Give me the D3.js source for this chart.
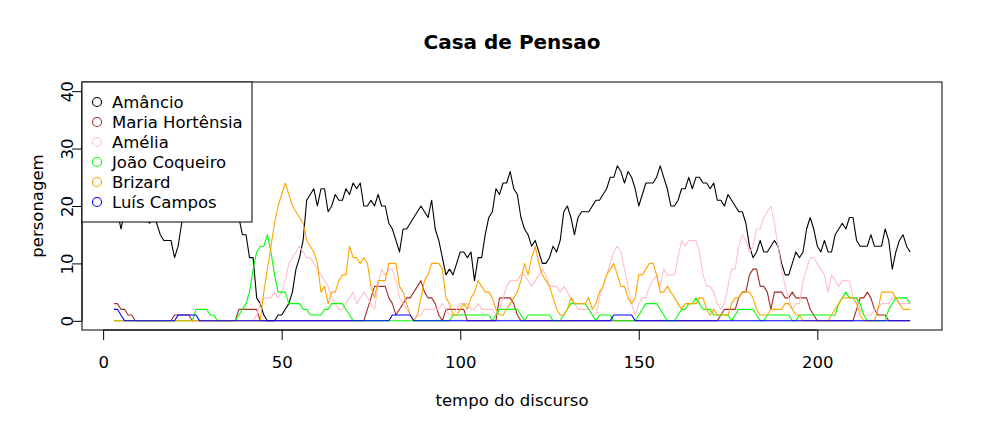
<!DOCTYPE html>
<html><head><meta charset="utf-8">
<script src="https://cdn.jsdelivr.net/npm/d3@7"></script>
<style>
body{margin:0;background:#fff}
svg{display:block}
text{font-family:"DejaVu Sans",sans-serif;fill:#000}
</style>
</head><body>
<svg id="c" width="984" height="433"></svg>
<script>
// x: tempo do discurso 3..226
const tempo = d3.range(3, 227);
const xTicks = [0, 50, 100, 150, 200];
const yTicks = [0, 10, 20, 30, 40];
const names = ["Amâncio", "Maria Hortênsia", "Amélia", "João Coqueiro", "Brizard", "Luís Campos"];
const colors = ["#000000", "#A52A2A", "#FFC0CB", "#00FF00", "#FFA500", "#0000FF"];

const amancio = [
19,19,16,19,20,20,19,19,18,18,
17,18,17,15,14,14,14,11,13,17,
20,21,22,21,22,22,21,20,21,22,
21,20,21,20,19,18,15,15,11,11,
4,3,1,0,0,0,1,1,2,3,
5,9,11,14,21,22,23,20,23,23,
19,20,22,21,21,23,22,24,23,24,
20,20,21,20,22,20,20,17,16,14,
12,16,16,17,18,19,20,19,18,21,
16,14,11,8,9,8,10,12,12,11,
12,7,11,11,15,18,19,23,22,24,
24,26,23,22,18,16,15,13,14,12,
10,10,11,13,12,14,19,20,18,15,
18,19,19,19,20,21,21,22,23,25,
25,27,26,24,26,25,23,20,22,24,
24,24,25,27,25,23,20,20,21,23,
23,25,23,25,25,24,24,23,24,21,
21,20,22,21,20,19,19,17,13,11,
12,14,12,12,13,14,13,10,8,8,
10,12,11,12,16,18,16,13,12,14,
12,12,15,16,17,16,18,18,14,13,
13,13,15,13,13,13,16,14,9,12,
14,15,13,12];

const mariaHortensia = [
3,3,2,2,1,1,0,0,0,0,
0,0,0,0,0,0,0,1,1,1,
1,1,0,0,0,0,0,0,0,0,
0,0,0,0,0,2,2,2,2,2,
2,0,0,0,0,0,0,0,0,0,
0,0,0,0,0,0,0,0,0,0,
0,0,0,0,0,0,0,0,0,0,
0,2,4,6,6,6,6,4,3,1,
2,3,4,4,5,6,7,5,4,4,
3,1,0,2,2,2,2,2,2,0,
0,0,0,0,0,0,0,0,4,4,
4,4,3,1,0,0,0,0,0,0,
0,0,0,0,0,0,0,0,0,0,
0,0,0,0,0,0,0,0,0,0,
0,0,0,0,0,0,0,0,0,0,
0,0,0,0,0,0,0,0,0,0,
0,0,0,0,0,0,0,0,0,0,
1,2,2,2,2,4,5,5,8,9,
9,6,6,5,2,5,5,5,4,4,
5,4,4,4,4,2,1,0,0,0,
0,0,0,0,0,0,0,0,2,4,
4,5,4,2,1,1,1,0,0,0,
0,0,0,0];

const amelia = [
0,0,0,0,0,0,0,0,0,0,
0,0,0,0,0,0,0,0,0,0,
0,0,0,0,0,0,0,0,0,0,
0,0,0,0,0,0,0,0,0,0,
1,3,4,4,4,5,4,5,7,10,
11,12,13,12,11,11,10,9,8,7,
6,4,3,2,2,3,4,5,3,4,
5,4,3,2,6,9,8,9,9,7,
4,3,2,1,0,1,1,2,2,2,
2,2,3,2,1,1,2,3,3,3,
2,2,3,2,2,2,2,1,2,4,
6,7,7,7,8,8,7,6,7,8,
9,8,6,6,6,5,6,5,4,3,
2,2,2,2,1,1,4,6,8,10,
12,13,12,9,6,3,1,3,4,4,
6,7,8,6,9,8,8,8,11,14,
13,14,14,14,12,8,6,6,5,3,
2,3,6,9,9,13,15,14,12,13,
16,16,18,19,20,17,13,9,6,4,
2,3,3,7,9,11,11,10,9,8,
5,8,7,6,7,7,7,4,4,2,
1,1,1,2,2,3,3,3,4,4,
3,3,3,3];

const joaoCoqueiro = [
0,0,0,0,0,0,0,0,0,0,
0,0,0,0,0,0,0,0,0,0,
0,0,0,2,2,2,2,1,1,0,
0,0,0,0,0,1,2,3,5,9,
12,13,13,15,12,8,5,5,5,3,
3,3,3,2,2,1,1,1,1,2,
2,3,3,3,3,2,1,0,0,0,
0,0,0,0,0,0,0,0,0,0,
0,0,0,0,0,0,0,0,0,0,
0,0,0,0,0,1,1,1,1,1,
1,1,1,1,1,1,0,1,2,2,
2,2,2,2,1,0,1,1,1,1,
1,1,1,0,0,0,1,2,3,3,
3,3,3,2,1,0,1,1,1,1,
0,0,0,0,0,0,0,1,2,3,
3,3,3,2,1,0,0,0,1,2,
2,3,3,4,3,2,2,2,1,1,
1,1,1,0,1,2,2,2,2,2,
1,0,0,1,1,1,1,1,1,1,
0,0,1,1,1,1,1,1,1,1,
1,1,1,3,4,5,4,4,4,3,
1,0,0,0,0,0,0,2,3,4,
4,4,4,3];

const brizard = [
0,0,0,0,0,0,0,0,0,0,
0,0,0,0,0,0,0,0,0,0,
0,0,0,0,0,0,0,0,0,0,
0,0,0,0,0,0,0,0,0,0,
0,0,5,9,13,17,20,22,24,22,
20,19,18,17,14,13,12,10,5,6,
3,5,5,7,8,8,13,11,11,10,
11,10,6,4,7,7,7,10,10,10,
6,5,3,1,0,1,4,7,8,10,
10,10,9,4,3,1,1,2,3,2,
4,5,7,6,5,5,4,2,1,1,
2,3,4,5,7,10,8,11,13,10,
8,7,6,4,2,1,1,2,4,3,
3,3,3,4,2,3,5,6,8,9,
10,8,6,6,4,3,4,8,8,9,
10,10,8,5,5,6,5,4,3,2,
3,3,3,3,4,4,2,1,2,1,
1,1,1,3,4,4,5,5,5,4,
2,1,1,1,2,2,2,2,3,3,
2,1,1,0,0,0,0,0,0,0,
0,1,2,3,4,4,4,4,3,1,
0,0,0,0,2,5,5,5,5,4,
3,2,2,2];

const luisCampos = [
2,2,1,0,0,0,0,0,0,0,
0,0,0,0,0,0,0,0,1,1,
1,1,1,1,0,0,0,0,0,0,
0,0,0,0,0,0,0,0,0,0,
0,0,0,0,0,0,0,0,0,0,
0,0,0,0,0,0,0,0,0,0,
0,0,0,0,0,0,0,0,0,0,
0,0,0,0,0,0,0,0,1,1,
1,1,1,1,0,0,0,0,0,0,
0,0,0,0,0,0,0,0,0,0,
0,0,0,0,0,0,0,0,0,0,
0,0,0,0,0,0,0,0,0,0,
0,0,0,0,0,0,0,0,0,0,
0,0,0,0,0,0,0,0,0,0,
1,1,1,1,1,1,0,0,0,0,
0,0,0,0,0,0,0,0,0,0,
0,0,0,0,0,0,0,0,0,0,
0,0,0,0,0,0,0,0,0,0,
0,0,0,0,0,0,0,0,0,0,
0,0,0,0,0,0,0,0,0,0,
0,0,0,0,0,0,0,0,0,0,
0,0,0,0,0,0,0,0,0,0,
0,0,0,0];

const series = [amancio, mariaHortensia, amelia, joaoCoqueiro, brizard, luisCampos];

const L = 82, R = 942, T = 82, B = 330;
const svg = d3.select("#c");
svg.append("rect").attr("width",984).attr("height",433).attr("fill","#fff");

const xmin = d3.min(tempo), xmax = d3.max(tempo), xp = (xmax - xmin) * 0.04;
const x = d3.scaleLinear().domain([xmin - xp, xmax + xp]).range([L, R]);
const y = d3.scaleLinear().domain([-1.6, 41.6]).range([B, T]);

const plot = svg.append("g");
const line = d3.line().x((d, i) => x(tempo[i])).y(d => y(d));
series.forEach((s, k) => {
  plot.append("path").datum(s).attr("d", line)
    .attr("fill", "none").attr("stroke", colors[k]).attr("stroke-width", 1.1)
    .attr("stroke-linejoin", "round");
});

// X axis
const xa = svg.append("g").attr("transform", `translate(0,${B})`)
  .call(d3.axisBottom(x).tickValues(xTicks).tickSize(10).tickPadding(0).tickFormat(d3.format("d")));
xa.select(".domain").remove();
xa.append("line").attr("x1", x(xTicks[0])).attr("x2", x(xTicks[xTicks.length-1]))
  .attr("stroke", "#000");
xa.selectAll(".tick line").attr("stroke", "#000");
xa.selectAll("text").attr("font-size", 16.5).attr("font-family", "DejaVu Sans")
  .attr("y", 38).attr("dy", 0).attr("fill", "#000");

// Y axis
const ya = svg.append("g").attr("transform", `translate(${L},0)`)
  .call(d3.axisLeft(y).tickValues(yTicks).tickSize(10).tickFormat(d3.format("d")));
ya.select(".domain").remove();
ya.append("line").attr("y1", y(yTicks[0])).attr("y2", y(yTicks[yTicks.length-1]))
  .attr("stroke", "#000");
ya.selectAll(".tick line").attr("stroke", "#000");
ya.selectAll("text").attr("font-size", 16.5).attr("font-family", "DejaVu Sans")
  .attr("transform", "rotate(-90)").attr("text-anchor", "middle")
  .attr("x", 0).attr("y", -9).attr("dy", 0).attr("fill", "#000");

// box
svg.append("rect").attr("x", L).attr("y", T).attr("width", R - L).attr("height", B - T)
  .attr("fill", "none").attr("stroke", "#000").attr("stroke-width", 1);

// titles
svg.append("text").attr("x", (L + R) / 2).attr("y", 49).attr("text-anchor", "middle")
  .attr("font-size", 20).attr("font-weight", "bold").text("Casa de Pensao");
svg.append("text").attr("x", (L + R) / 2).attr("y", 406).attr("text-anchor", "middle")
  .attr("font-size", 16.5).text("tempo do discurso");
svg.append("text").attr("transform", `translate(43,${(T + B) / 2}) rotate(-90)`)
  .attr("text-anchor", "middle").attr("font-size", 16.5).text("personagem");

// legend
const lg = svg.append("g").attr("transform", `translate(${L},${T})`);
lg.append("rect").attr("width", 170).attr("height", 140).attr("fill", "#fff")
  .attr("stroke", "#000").attr("stroke-width", 1);
names.forEach((n, k) => {
  const cy = 20 + 20 * k;
  lg.append("circle").attr("cx", 15).attr("cy", cy).attr("r", 4.5)
    .attr("fill", "none").attr("stroke", colors[k]).attr("stroke-width", 1.1);
  lg.append("text").attr("x", 30).attr("y", cy + 6).attr("font-size", 16.5).text(n);
});
</script>
</body></html>
